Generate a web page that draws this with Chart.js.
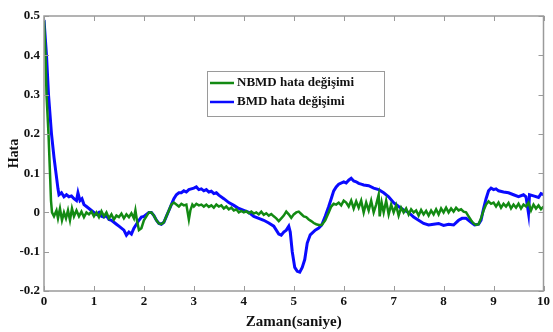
<!DOCTYPE html>
<html>
<head>
<meta charset="utf-8">
<script src="https://cdn.jsdelivr.net/npm/chart.js@4/dist/chart.umd.min.js"></script>
<style>
html,body{margin:0;padding:0;background:#fff;}
#wrap{width:553px;height:332px;position:relative;}
</style>
</head>
<body>
<div id="wrap"><canvas id="c" width="553" height="332"></canvas></div>
<script>
// ---- data ----
const seriesLabels = ['NBMD hata değişimi', 'BMD hata değişimi'];
const xTicks = [0,1,2,3,4,5,6,7,8,9,10];
const yTicks = [-0.2,-0.1,0,0.1,0.2,0.3,0.4,0.5];
const xTitle = 'Zaman(saniye)';
const yTitle = 'Hata';

const bmdX = [0,0.05,0.09,0.15,0.2,0.24,0.28,0.30,0.35,0.40,0.45,0.5,0.55,0.6,0.65,0.68,0.72,0.76,0.8,0.85,0.9,0.95,1.0,1.05,1.1,1.15,1.2,1.25,1.3,1.35,1.4,1.45,1.5,1.55,1.6,1.65,1.7,1.75,1.8,1.85,1.9,1.95,2.0,2.05,2.1,2.15,2.2,2.25,2.3,2.35,2.4,2.45,2.5,2.55,2.6,2.65,2.7,2.75,2.8,2.85,2.9,2.95,3.0,3.05,3.1,3.15,3.2,3.25,3.3,3.35,3.4,3.45,3.5,3.6,3.7,3.8,3.9,4.0,4.1,4.2,4.3,4.4,4.5,4.6,4.7,4.75,4.8,4.85,4.9,4.93,4.97,5.02,5.07,5.12,5.17,5.22,5.27,5.33,5.43,5.5,5.56,5.63,5.7,5.75,5.8,5.85,5.9,6.0,6.05,6.1,6.15,6.2,6.25,6.3,6.35,6.4,6.5,6.6,6.7,6.8,6.9,7.0,7.1,7.2,7.3,7.4,7.5,7.6,7.7,7.8,7.9,8.0,8.1,8.2,8.3,8.37,8.45,8.55,8.62,8.7,8.75,8.8,8.85,8.9,8.95,9.0,9.05,9.1,9.2,9.3,9.4,9.5,9.6,9.65,9.7,9.72,9.8,9.9,9.95,10.0];
const bmdY = [0.49,0.40,0.30,0.20,0.14,0.10,0.06,0.045,0.05,0.04,0.045,0.04,0.042,0.035,0.03,0.05,0.03,0.035,0.02,0.015,0.01,0.005,0.0,-0.005,0.0,-0.01,-0.012,-0.008,-0.018,-0.02,-0.025,-0.03,-0.035,-0.04,-0.045,-0.058,-0.05,-0.055,-0.04,-0.03,-0.02,-0.012,-0.01,-0.005,0.0,0.0,-0.008,-0.02,-0.028,-0.03,-0.025,-0.01,0.005,0.02,0.035,0.045,0.05,0.05,0.055,0.052,0.058,0.06,0.062,0.065,0.058,0.06,0.055,0.058,0.052,0.054,0.048,0.05,0.044,0.035,0.025,0.018,0.01,0.005,0.0,-0.01,-0.015,-0.02,-0.027,-0.035,-0.055,-0.058,-0.05,-0.045,-0.035,-0.05,-0.1,-0.14,-0.15,-0.152,-0.14,-0.12,-0.078,-0.057,-0.045,-0.04,-0.032,-0.01,0.015,0.035,0.055,0.065,0.072,0.078,0.075,0.082,0.087,0.08,0.078,0.074,0.072,0.07,0.068,0.062,0.058,0.05,0.04,0.025,0.015,0.006,0.0,-0.012,-0.02,-0.028,-0.032,-0.03,-0.028,-0.033,-0.03,-0.032,-0.02,-0.015,-0.015,-0.025,-0.032,-0.03,-0.02,0.01,0.035,0.055,0.062,0.058,0.06,0.055,0.052,0.05,0.045,0.04,0.045,0.04,-0.002,0.045,0.042,0.038,0.048,0.045];

const nbmdX = [0,0.03,0.05,0.09,0.12,0.14,0.16,0.2,0.25,0.28,0.32,0.36,0.4,0.44,0.48,0.52,0.56,0.6,0.65,0.7,0.75,0.8,0.85,0.9,0.95,1.0,1.05,1.1,1.15,1.2,1.25,1.3,1.35,1.4,1.45,1.5,1.55,1.6,1.65,1.7,1.75,1.8,1.83,1.86,1.9,1.95,2.0,2.05,2.1,2.15,2.2,2.25,2.3,2.35,2.4,2.45,2.5,2.55,2.6,2.65,2.7,2.75,2.8,2.85,2.9,2.93,2.97,3.0,3.05,3.1,3.15,3.2,3.25,3.3,3.35,3.4,3.45,3.5,3.55,3.6,3.65,3.7,3.75,3.8,3.85,3.9,3.95,4.0,4.05,4.1,4.15,4.2,4.25,4.3,4.35,4.4,4.45,4.5,4.55,4.6,4.65,4.7,4.75,4.8,4.85,4.9,4.95,5.0,5.05,5.1,5.15,5.2,5.25,5.3,5.35,5.4,5.45,5.5,5.56,5.63,5.7,5.75,5.8,5.85,5.9,5.95,6.0,6.05,6.1,6.15,6.2,6.25,6.3,6.35,6.4,6.45,6.5,6.55,6.6,6.65,6.7,6.72,6.76,6.8,6.85,6.9,6.95,7.0,7.05,7.1,7.15,7.2,7.25,7.3,7.35,7.4,7.45,7.5,7.55,7.6,7.65,7.7,7.75,7.8,7.85,7.9,7.95,8.0,8.05,8.1,8.15,8.2,8.25,8.3,8.35,8.4,8.45,8.5,8.55,8.6,8.65,8.7,8.75,8.8,8.85,8.9,8.95,9.0,9.05,9.1,9.15,9.2,9.25,9.3,9.35,9.4,9.45,9.5,9.55,9.6,9.65,9.7,9.75,9.8,9.85,9.9,9.95,10.0];
const nbmdY = [0.49,0.40,0.30,0.20,0.10,0.03,0.0,-0.01,0.005,-0.015,0.01,-0.02,0.0,-0.015,0.005,-0.02,0.01,-0.01,0.005,-0.01,0.002,-0.012,0.0,-0.005,0.002,-0.01,0.0,-0.012,0.003,-0.01,0.0,-0.015,-0.005,-0.018,-0.008,-0.012,-0.003,-0.015,-0.005,-0.012,-0.002,-0.015,0.005,-0.02,-0.045,-0.04,-0.02,-0.01,0.0,0.0,-0.008,-0.02,-0.028,-0.03,-0.025,-0.01,0.005,0.02,0.025,0.02,0.015,0.022,0.018,0.02,-0.018,0.005,0.02,0.015,0.022,0.018,0.02,0.015,0.02,0.014,0.018,0.012,0.02,0.015,0.018,0.01,0.015,0.008,0.012,0.005,0.008,0.0,0.004,0.0,0.003,-0.002,0.002,-0.003,0.0,-0.005,0.002,-0.006,-0.002,-0.008,-0.004,-0.01,-0.015,-0.022,-0.015,-0.008,0.002,-0.005,-0.014,-0.005,0.0,0.002,-0.004,-0.01,-0.012,-0.018,-0.022,-0.027,-0.03,-0.032,-0.032,-0.02,0.0,0.015,0.022,0.02,0.025,0.018,0.03,0.025,0.015,0.03,0.01,0.028,0.012,0.03,0.0,0.025,0.005,0.03,0.0,0.02,0.045,-0.01,0.025,0.0,0.03,-0.005,0.02,0.0,0.018,-0.008,0.012,0.0,0.01,-0.005,0.008,0.0,0.005,-0.008,0.006,-0.005,0.004,-0.008,0.005,-0.005,0.008,-0.005,0.01,0.0,0.012,0.0,0.01,0.002,0.012,0.005,0.008,0.002,0.0,-0.01,-0.02,-0.028,-0.032,-0.03,-0.015,0.005,0.02,0.028,0.022,0.025,0.015,0.025,0.012,0.022,0.015,0.024,0.01,0.02,0.012,0.022,0.01,0.02,0.015,0.025,0.005,0.02,0.01,0.018,0.008,0.015];

const greenColor = '#138a13';
const blueColor = '#0a0aff';
const axisColor = '#9a9a9a';
const FONT = '"Liberation Serif","Times New Roman",serif';

const toPts = (xs, ys) => xs.map((x, i) => ({x: x, y: ys[i]}));

const framePlugin = {
  id: 'frame',
  afterDatasetsDraw(chart) {
    const {ctx, chartArea: a, scales} = chart;
    ctx.save();
    ctx.strokeStyle = axisColor;
    ctx.lineWidth = 1.5;
    ctx.strokeRect(a.left, a.top, a.right - a.left, a.bottom - a.top);
    ctx.lineWidth = 1;
    const tl = 5;
    xTicks.forEach(v => {
      const px = Math.round(scales.x.getPixelForValue(v)) + 0.5;
      ctx.beginPath();
      ctx.moveTo(px, a.bottom); ctx.lineTo(px, a.bottom - tl);
      ctx.moveTo(px, a.top); ctx.lineTo(px, a.top + tl);
      ctx.stroke();
    });
    yTicks.forEach(v => {
      const py = Math.round(scales.y.getPixelForValue(v)) + 0.5;
      ctx.beginPath();
      ctx.moveTo(a.left, py); ctx.lineTo(a.left + tl, py);
      ctx.moveTo(a.right, py); ctx.lineTo(a.right - tl, py);
      ctx.stroke();
    });
    // legend box
    const bx = 207, by = 71, bw = 177, bh = 45;
    ctx.fillStyle = '#fff';
    ctx.fillRect(bx, by, bw, bh);
    ctx.strokeStyle = axisColor;
    ctx.lineWidth = 1;
    ctx.strokeRect(bx + 0.5, by + 0.5, bw, bh);
    ctx.font = 'bold 13px ' + FONT;
    ctx.textBaseline = 'middle';
    ctx.textAlign = 'left';
    chart.data.datasets.forEach((ds, i) => {
      const ly = by + 12 + i * 19;
      ctx.strokeStyle = ds.borderColor;
      ctx.lineWidth = 2.5;
      ctx.beginPath();
      ctx.moveTo(bx + 3, ly); ctx.lineTo(bx + 27, ly);
      ctx.stroke();
      ctx.fillStyle = '#111';
      ctx.fillText(ds.label, bx + 30, ly);
    });
    ctx.restore();
  }
};

new Chart(document.getElementById('c'), {
  type: 'line',
  data: {
    datasets: [
      {label: seriesLabels[0], data: toPts(nbmdX, nbmdY), borderColor: greenColor, borderWidth: 2.5, pointRadius: 0, tension: 0, fill: false},
      {label: seriesLabels[1], data: toPts(bmdX, bmdY), borderColor: blueColor, borderWidth: 3, pointRadius: 0, tension: 0, fill: false}
    ]
  },
  options: {
    responsive: false,
    animation: false,
    layout: {padding: {top: 16, right: 7, left: 0, bottom: 0}},
    plugins: {legend: {display: false}, tooltip: {enabled: false}},
    scales: {
      x: {
        type: 'linear', min: 0, max: 10,
        afterBuildTicks: s => { s.ticks = xTicks.map(v => ({value: v})); },
        afterFit: s => { s.height = 41; },
        grid: {display: false, drawTicks: false},
        border: {display: false},
        ticks: {color: '#111', font: {family: FONT, weight: 'bold', size: 13}, padding: 3, maxRotation: 0, autoSkip: false, callback: v => String(v)},
        title: {display: true, text: xTitle, color: '#111', font: {family: FONT, weight: 'bold', size: 15}, padding: {top: 0, bottom: 1}}
      },
      y: {
        type: 'linear', min: -0.2, max: 0.5,
        afterBuildTicks: s => { s.ticks = yTicks.map(v => ({value: v})); },
        afterFit: s => { s.width = 44; },
        grid: {display: false, drawTicks: false},
        border: {display: false},
        ticks: {color: '#111', font: {family: FONT, weight: 'bold', size: 13}, padding: 4, autoSkip: false, callback: v => String(Number(v.toFixed(1)))},
        title: {display: true, text: yTitle, color: '#111', font: {family: FONT, weight: 'bold', size: 14}, padding: {top: 6, bottom: 0}}
      }
    }
  },
  plugins: [framePlugin]
});
</script>
</body>
</html>
